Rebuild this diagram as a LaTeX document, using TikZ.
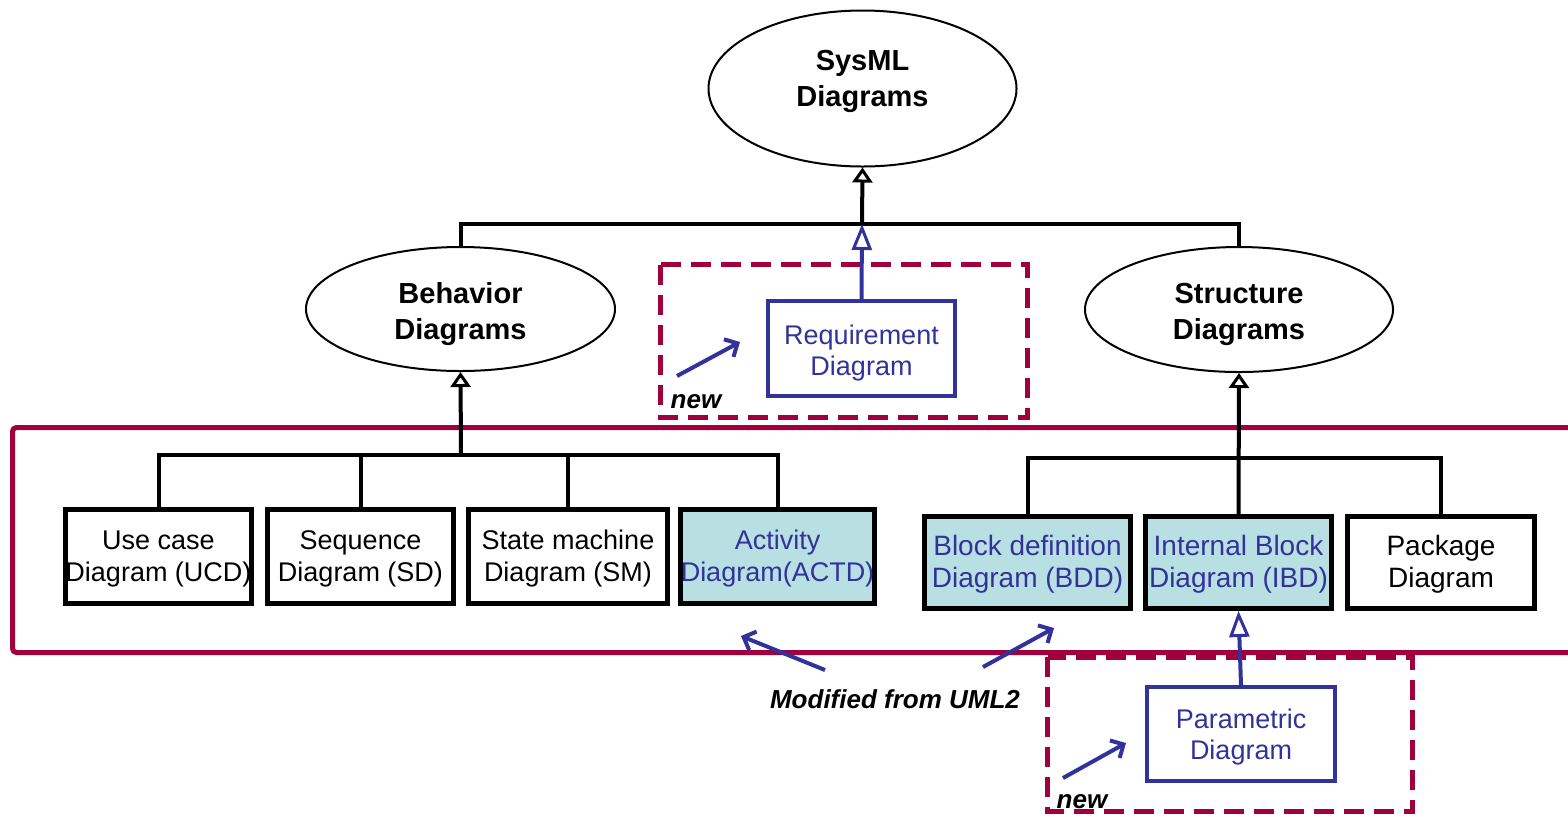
\documentclass[tikz,border=0pt]{standalone}
\usepackage{fontspec}
\setmainfont{Liberation Sans}
\usetikzlibrary{arrows.meta,shapes.geometric}
\definecolor{maroon}{RGB}{160,0,60}
\definecolor{umlblue}{RGB}{50,50,155}
\definecolor{cyanfill}{RGB}{184,224,227}
\newcommand\txtlow[2]{\raisebox{#1}[\height][\depth]{\begin{tabular}{@{}c@{}}#2\end{tabular}}}
\begin{document}
\begin{tikzpicture}[x=0.5pt,y=-0.5pt,
  ell/.style={ellipse, draw, line width=1pt, inner sep=0,
    font=\bfseries\fontsize{14.5}{18}\selectfont},
  dbox/.style={draw, line width=2.5pt, inner sep=0,
    minimum height=47pt, font=\fontsize{13.5}{16}\selectfont},
  sbox/.style={dbox, minimum height=46pt, font=\fontsize{14}{16}\selectfont},
  modbox/.style={fill=cyanfill, text=umlblue},
  newbox/.style={draw=umlblue, text=umlblue, line width=2pt, inner sep=0,
    minimum height=47pt, font=\fontsize{13.5}{15.5}\selectfont},
  tree/.style={line width=2pt, black},
  gen/.style={-{Triangle[open, length=7.5pt, width=10pt, line width=1.5pt]}},
  bgen/.style={-{Triangle[open, length=13pt, width=10pt, line width=1.5pt]}},
  blueline/.style={line width=2pt, umlblue},
  pointer/.style={line width=2pt, umlblue, -{Straight Barb[length=5pt, width=10pt, line width=2pt]}},
  frame/.style={line width=2.5pt, maroon},
  dframe/.style={line width=2.5pt, maroon, dash pattern=on 10pt off 5pt},
  note/.style={font=\bfseries\itshape\fontsize{13}{15}\selectfont, inner sep=0}
]
\useasboundingbox (0,0) rectangle (1568,816);
\clip (0,0) rectangle (1568,816);

% ellipses
\node[ell, minimum width=154pt, minimum height=78pt] (sysml) at (862.5,88.5) {\txtlow{3.5pt}{SysML\\Diagrams}};
\node[ell, minimum width=154.5pt, minimum height=62pt] (beh) at (460.5,309) {\txtlow{-2.5pt}{Behavior\\Diagrams}};
\node[ell, minimum width=154pt, minimum height=62.5pt] (str) at (1239,309.5) {\txtlow{-2.5pt}{Structure\\Diagrams}};

% requirement
\node[newbox, minimum width=93.5pt, minimum height=47.5pt] (req) at (861.5,348.5) {\txtlow{-2.5pt}{Requirement\\Diagram}};

% behavior children
\node[dbox, minimum width=93pt] (ucd) at (158.5,556.5) {\txtlow{-1.5pt}{Use case\\Diagram (UCD)}};
\node[dbox, minimum width=93pt] (sd) at (360.5,556.5) {\txtlow{-1.5pt}{Sequence\\Diagram (SD)}};
\node[dbox, minimum width=99.5pt] (sm) at (568,556.5) {\txtlow{-1.5pt}{State machine\\Diagram (SM)}};
\node[dbox, modbox, minimum width=93pt] (actd) at (777.5,556.5) {\txtlow{-1.5pt}{Activity\\Diagram(ACTD)}};

% structure children
\node[sbox, modbox, minimum width=103pt] (bdd) at (1027.5,562.5) {\txtlow{-1.5pt}{Block definition\\Diagram (BDD)}};
\node[sbox, modbox, minimum width=93pt] (ibd) at (1238.5,562.5) {\txtlow{-1.5pt}{Internal Block\\Diagram (IBD)}};
\node[sbox, minimum width=93.5pt] (pkg) at (1441,562.5) {\txtlow{-1.5pt}{Package\\Diagram}};

% parametric
\node[newbox, minimum width=94pt, minimum height=47pt] (par) at (1241,734) {\txtlow{-1.75pt}{Parametric\\Diagram}};

% frames
\draw[dframe] (660.5,264.5) rectangle (1027.5,417.5);
\draw[dframe] (1047.5,657) rectangle (1412.5,811);
\draw[frame, rounded corners=2pt] (12.5,427.5) rectangle (1620,652.5);

% tree connectors
\coordinate (jt) at (862,224);
\draw[tree] (beh.north) |- (jt) -| (str.north);
\draw[tree, gen] (jt) -- (sysml.south);
\draw[blueline, bgen] (req.north) -- (jt);

\coordinate (jb) at (461,455);
\draw[tree] (ucd.north) |- (actd.north |- jb) -- (actd.north);
\draw[tree] (sd.north) -- (sd.north |- jb);
\draw[tree] (sm.north) -- (sm.north |- jb);
\draw[tree, gen] (jb) -- (beh.south);

\coordinate (js) at (1239,458);
\draw[tree] (bdd.north) |- (pkg.north |- js) -- (pkg.north);
\draw[tree, gen] (ibd.north) -- (str.south);
\draw[blueline, bgen] (par.north) -- (ibd.south);

% notes
\coordinate (n1a) at (677,376); \coordinate (n1b) at (740,342);
\draw[pointer] (n1a) -- (n1b);
\node[note] (new1) at (696,402) {new};
\coordinate (n2a) at (1063,778); \coordinate (n2b) at (1126,743);
\draw[pointer] (n2a) -- (n2b);
\node[note] (new2) at (1082,802) {new};

\node[note] (mod) at (895,699) {Modified from UML2};
\coordinate (m1a) at (825,670); \coordinate (m1b) at (741,636);
\coordinate (m2a) at (983,667); \coordinate (m2b) at (1054,628);
\draw[pointer] (m1a) -- (m1b);
\draw[pointer] (m2a) -- (m2b);
\end{tikzpicture}
\end{document}
